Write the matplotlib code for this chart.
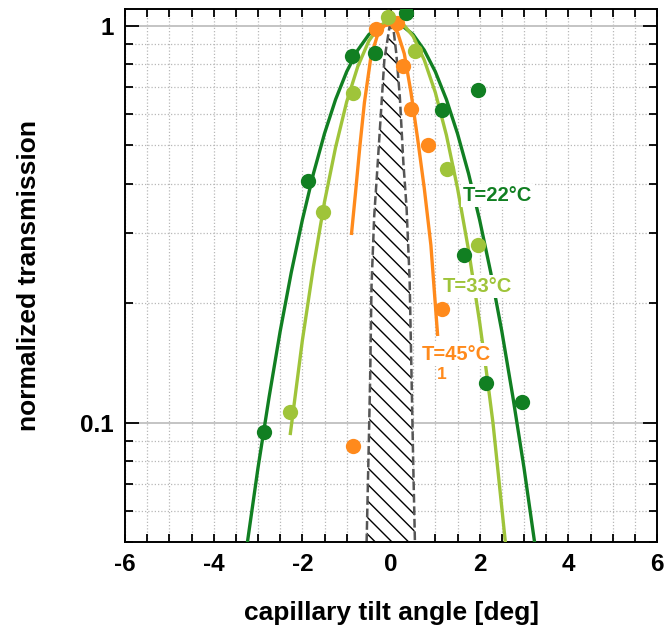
import matplotlib
matplotlib.use("Agg")
import matplotlib.pyplot as plt
from matplotlib.ticker import FixedLocator, MultipleLocator, NullFormatter, FixedFormatter

plt.rcParams['font.family'] = ['Liberation Sans', 'DejaVu Sans']
plt.rcParams['font.weight'] = 'bold'
plt.rcParams['hatch.linewidth'] = 1.0
plt.rcParams['axes.unicode_minus'] = False

# ---- measured points ----
t22_x = [-2.87, -1.87, -0.87, -0.36, 0.34, 1.16, 1.65, 1.96, 2.14, 2.95]
t22_y = [0.095, 0.406, 0.839, 0.853, 1.074, 0.614, 0.264, 0.687, 0.126, 0.1125]

t33_x = [-2.27, -1.54, -0.86, -0.07, 0.54, 1.26, 1.96]
t33_y = [0.1066, 0.340, 0.676, 1.05, 0.865, 0.436, 0.280]

t45_x = [-0.86, -0.34, 0.14, 0.26, 0.45, 0.84, 1.14]
t45_y = [0.0875, 0.98, 1.017, 0.792, 0.618, 0.50, 0.193]

# ---- fit curves ----
fit22_x = [-3.25, -3.0, -2.75, -2.5, -2.25, -2.0, -1.75, -1.5, -1.25, -1.0, -0.75, -0.5, -0.25,
           0.0, 0.25, 0.5, 0.75, 1.0, 1.25, 1.5, 1.75, 2.0, 2.25, 2.5, 2.75, 3.0, 3.25]
fit22_y = [0.049, 0.077, 0.116, 0.170, 0.239, 0.324, 0.424, 0.535, 0.652, 0.766, 0.868, 0.95, 1.0,
           1.02, 1.0, 0.95, 0.868, 0.766, 0.652, 0.535, 0.424, 0.324, 0.239, 0.170, 0.116, 0.077, 0.049]

fit33_x = [-2.27, -2.0, -1.75, -1.5, -1.25, -1.0, -0.75, -0.5, -0.25, 0.0, 0.25, 0.5, 0.75,
           1.0, 1.25, 1.5, 1.75, 2.0, 2.15, 2.3, 2.58]
fit33_y = [0.094, 0.161, 0.247, 0.360, 0.494, 0.643, 0.789, 0.916, 1.0, 1.04, 1.017, 0.94, 0.82,
           0.679, 0.53, 0.39, 0.272, 0.179, 0.135, 0.10, 0.05]

fit45_x = [-0.89, -0.8, -0.7, -0.6, -0.45, -0.3, -0.15, 0.0, 0.15, 0.3, 0.45, 0.6, 0.75, 0.9, 1.05]
fit45_y = [0.30, 0.38, 0.50, 0.64, 0.84, 0.95, 1.0, 1.01, 0.96, 0.85, 0.68, 0.52, 0.39, 0.28, 0.167]

# ---- instrumental resolution profile (hatched) ----
res_x = [-0.55, -0.50, -0.47, -0.44, -0.38, -0.30, -0.22, -0.15, -0.03,
         0.06, 0.12, 0.20, 0.28, 0.35, 0.42, 0.47, 0.50, 0.54]
res_y = [0.05, 0.09, 0.13, 0.22, 0.33, 0.45, 0.62, 0.82, 1.0,
         0.97, 0.85, 0.66, 0.45, 0.35, 0.23, 0.12, 0.08, 0.05]

x_ticks = [-6, -4, -2, 0, 2, 4, 6]
y_ticks = [0.1, 1]
y_tick_labels = ['0.1', '1']

c22 = '#117f22'
c33 = '#9fc43a'
c45 = '#ff8a1c'

fig = plt.figure(figsize=(6.64, 6.37), dpi=100)
ax = fig.add_axes([125/664, 1 - 542.3/637, (657 - 125)/664, (542.3 - 9.3)/637])
ax.set_yscale('log')
ax.set_xlim(-6, 6)
ax.set_ylim(0.05, 1.1)

# grid
ax.xaxis.set_major_locator(FixedLocator(x_ticks))
ax.xaxis.set_minor_locator(MultipleLocator(0.5))
ax.yaxis.set_major_locator(FixedLocator(y_ticks))
ax.yaxis.set_major_formatter(FixedFormatter(y_tick_labels))
minor_y = [0.05, 0.06, 0.07, 0.08, 0.09, 0.2, 0.3, 0.4, 0.5, 0.6, 0.7, 0.8, 0.9]
ax.yaxis.set_minor_locator(FixedLocator(minor_y))
ax.yaxis.set_minor_formatter(NullFormatter())

dot = (0, (1, 1.6))
ax.grid(True, which='both', axis='x', color='#b8b8b8', linestyle=dot, linewidth=0.9)
ax.grid(True, which='major', axis='y', color='#c4c4c4', linestyle='-', linewidth=1.4)
ax.grid(True, which='minor', axis='y', color='#b8b8b8', linestyle=dot, linewidth=0.9)
ax.set_axisbelow(True)

# hatched resolution profile
ax.fill_between(res_x, res_y, 0.01, facecolor='white', edgecolor='none', zorder=2)
ax.fill_between(res_x, res_y, 0.01, facecolor='none', edgecolor='black', hatch='\\\\',
                linewidth=0, zorder=2.1)
ax.plot(res_x, res_y, color='#555555', linestyle=(0, (3.5, 1.5)), linewidth=1.8, zorder=2.2)

# fit curves
ax.plot(fit22_x, fit22_y, color=c22, linewidth=2.4, zorder=3)
ax.plot(fit33_x, fit33_y, color=c33, linewidth=2.4, zorder=3)
ax.plot(fit45_x, fit45_y, color=c45, linewidth=2.4, zorder=3)

# data points
ms = 11
ax.plot(t45_x, t45_y, 'o', color=c45, markersize=ms, markeredgewidth=0, zorder=4)
ax.plot(t33_x, t33_y, 'o', color=c33, markersize=ms, markeredgewidth=0, zorder=4)
ax.plot(t22_x, t22_y, 'o', color=c22, markersize=ms, markeredgewidth=0, zorder=4)

# labels
bb = dict(facecolor='white', edgecolor='none', pad=1.5)
ax.text(2.40, 0.373, 'T=22°C', color=c22, fontsize=14.5, fontweight='bold',
        ha='center', va='center', bbox=bb, zorder=5)
ax.text(1.95, 0.2206, 'T=33°C', color=c33, fontsize=14.5, fontweight='bold',
        ha='center', va='center', bbox=bb, zorder=5)
ax.text(1.47, 0.149, 'T=45°C', color=c45, fontsize=14.5, fontweight='bold',
        ha='center', va='center', bbox=bb, zorder=5)
ax.text(1.15, 0.132, '1', color=c45, fontsize=12.5, fontweight='bold',
        ha='center', va='center', zorder=5)

# ticks
ax.tick_params(axis='both', which='both', direction='in', top=True, right=True,
               width=1.3, color='black')
ax.tick_params(axis='x', which='both', length=6, pad=8, labelsize=17.5)
ax.tick_params(axis='y', which='major', length=10, pad=8, labelsize=17.5)
ax.tick_params(axis='y', which='minor', length=6)
for lab in ax.get_xticklabels() + ax.get_yticklabels():
    lab.set_fontweight('bold')
for s in ax.spines.values():
    s.set_linewidth(1.4)

ax.set_xlabel('capillary tilt angle [deg]', fontsize=19, fontweight='bold', labelpad=18)
ax.set_ylabel('normalized transmission', fontsize=19, fontweight='bold', labelpad=28)

fig.savefig('out.png', dpi=100)
